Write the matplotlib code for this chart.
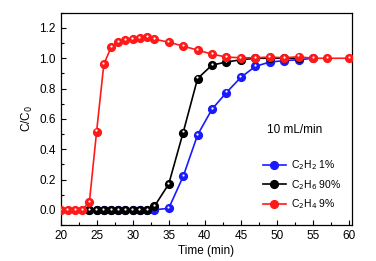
import matplotlib
matplotlib.use("Agg")
import matplotlib.pyplot as plt
from matplotlib.ticker import MultipleLocator
from matplotlib.transforms import ScaledTranslation

plt.rcParams['font.family'] = ['Liberation Sans', 'DejaVu Sans']

# time points (min) and C/C0 values
t_c2h2 = [24, 25, 26, 27, 28, 29, 30, 31, 32, 33, 35, 37, 39, 41, 43, 45, 47, 49, 51, 53, 55]
y_c2h2 = [0, 0, 0, 0, 0, 0, 0, 0, 0, 0.0, 0.01, 0.22, 0.494, 0.664, 0.774, 0.874, 0.946, 0.975, 0.984, 0.99, 1.0]

t_c2h6 = [24, 25, 26, 27, 28, 29, 30, 31, 32, 33, 35, 37, 39, 41, 43, 45, 47, 49, 51, 53]
y_c2h6 = [0, 0, 0, 0, 0, 0, 0, 0, 0, 0.022, 0.17, 0.51, 0.866, 0.955, 0.975, 0.99, 1.0, 1.0, 1.0, 1.0]

t_c2h4 = [20, 21, 22, 23, 24, 25, 26, 27, 28, 29, 30, 31, 32, 33, 35, 37, 39, 41, 43, 45, 47, 49, 51, 53, 55, 57, 60]
y_c2h4 = [0, 0, 0, 0, 0.052, 0.516, 0.96, 1.071, 1.108, 1.121, 1.128, 1.132, 1.139, 1.126, 1.106, 1.08, 1.054,
          1.027, 1.008, 1.003, 1.003, 1.008, 1.003, 1.01, 1.0, 1.0, 1.0]

series = [
    (t_c2h2, y_c2h2, "#1a1aff", "C$_2$H$_2$ 1%"),
    (t_c2h6, y_c2h6, "#000000", "C$_2$H$_6$ 90%"),
    (t_c2h4, y_c2h4, "#ff1a1a", "C$_2$H$_4$ 9%"),
]

fig = plt.figure(figsize=(3.76, 2.61), dpi=100)
ax = fig.add_axes([0.161, 0.138, 0.775, 0.813])

# small white highlight shifted up a bit, gives the sphere look
shine = ax.transData + ScaledTranslation(-0.3 / 72, 0.9 / 72, fig.dpi_scale_trans)

for i, (t, y, c, lab) in enumerate(series):
    ax.plot(t, y, "-o", color=c, lw=1.2, ms=5.6, mec=c, mfc=c, label=lab, zorder=2 + i)
    ax.plot(t, y, "o", color="white", ms=1.6, mec="none", transform=shine, zorder=2.5 + i)

ax.set_xlim(20, 60.4)
ax.set_ylim(-0.1, 1.3)
ax.xaxis.set_major_locator(MultipleLocator(5))
ax.xaxis.set_minor_locator(MultipleLocator(2.5))
ax.yaxis.set_major_locator(MultipleLocator(0.2))
ax.yaxis.set_minor_locator(MultipleLocator(0.1))
ax.set_yticks([0, 0.2, 0.4, 0.6, 0.8, 1.0, 1.2])
ax.tick_params(which="both", direction="in", labelsize=8.5, width=0.8)
ax.tick_params(which="major", length=3.5)
ax.tick_params(which="minor", length=2)
for s in ax.spines.values():
    s.set_linewidth(0.9)

ax.set_xlabel("Time (min)", fontsize=8.5, labelpad=2)
ax.set_ylabel("C/C$_0$", fontsize=8.5, labelpad=3)

ax.text(48.6, 0.527, "10 mL/min", fontsize=8.5, va="center")

ax.legend(loc="lower right", bbox_to_anchor=(0.995, 0.02), frameon=False, fontsize=7.5,
          handlelength=2.2, handletextpad=0.5, labelspacing=0.55)

fig.savefig("out.png", dpi=100)
